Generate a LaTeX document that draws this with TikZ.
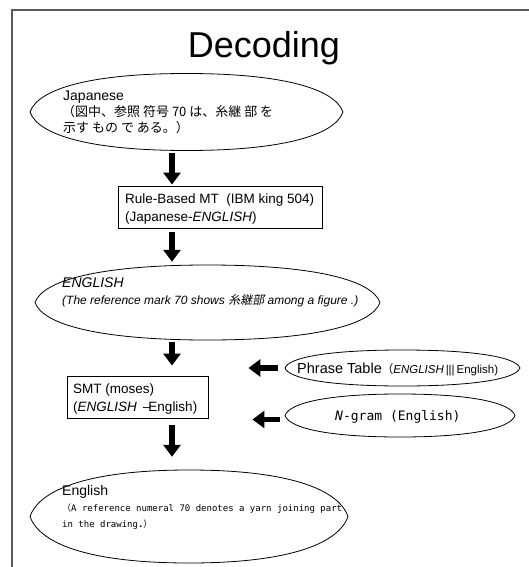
\documentclass[tikz,border=0pt]{standalone}
\usepackage{fontspec}
\setmainfont{Liberation Sans}
\newfontfamily\jp{Noto Sans CJK JP}
\newfontfamily\jpit[FakeSlant=0.2]{Noto Sans CJK JP}
\newfontfamily\mono{DejaVu Sans Mono}
\usetikzlibrary{shapes.geometric,arrows.meta}

\tikzset{
  frame/.style={draw=black!65, line width=1.3pt},
  outline/.style={draw, line width=0.8pt},
  stagebox/.style={rectangle, draw, line width=0.9pt, inner sep=0pt},
  bigarrow/.style={line width=5.5pt, -{Triangle[width=17pt,length=12pt]}},
  txt/.style={anchor=base west, inner sep=0pt},
  big/.style={font=\fontsize{13.5}{16}\selectfont},
}

% oval with slightly pointed ends: name, centre x, centre y, half width, half height
\newcommand\ovalstage[5]{%
  \node[ellipse, inner sep=0pt, minimum width=#4*2pt, minimum height=#5*2pt] (#1) at (#2,#3) {};
  \draw[outline] (#2-#4,#3)
    .. controls (#2-#4+0.22*#5,#3-0.62*#5) and (#2-0.6*#4,#3-#5) .. (#2,#3-#5)
    .. controls (#2+0.6*#4,#3-#5) and (#2+#4-0.22*#5,#3-0.62*#5) .. (#2+#4,#3)
    .. controls (#2+#4-0.22*#5,#3+0.62*#5) and (#2+0.6*#4,#3+#5) .. (#2,#3+#5)
    .. controls (#2-0.6*#4,#3+#5) and (#2-#4+0.22*#5,#3+0.62*#5) .. cycle;
}

\begin{document}
\begin{tikzpicture}[x=1pt,y=-1pt]
\useasboundingbox (0,0) rectangle (529,567);

% page frame (top and left edges)
\draw[frame] (12,567) -- (12,10) -- (529,10);

% title
\node[anchor=base, inner sep=0pt, font=\fontsize{36}{42}\selectfont] (title) at (264,58) {Decoding};

% stages
\ovalstage{j}{186.5}{112}{156.5}{38.5}
\node[stagebox, minimum width=204pt, minimum height=42pt] (rb) at (220,207) {};
\ovalstage{e2}{207.5}{302.5}{172.5}{37.5}
\node[stagebox, minimum width=141pt, minimum height=42pt] (smt) at (137.5,397) {};
\ovalstage{ph}{402.5}{368}{117.5}{18}
\ovalstage{ng}{400}{415.5}{115}{21.5}
\ovalstage{en}{189}{516.5}{159}{46.5}

% labels
\node[txt, font=\fontsize{14}{16}\selectfont] (j1) at (63,101) {Japanese};
\node[txt, font=\fontsize{13}{15}\jp] (j2) at (62,116.5) {（図中、参照 符号 70 は、糸継 部 を};
\node[txt, font=\fontsize{13}{15}\jp] (j3) at (63,132) {示す もの で ある。）};

\node[txt, big] (r1) at (125,203) {Rule-Based MT\ \ (IBM king 504)};
\node[txt, big] (r2) at (125,221) {(Japanese-\textit{ENGLISH})};

\node[txt, font=\fontsize{14}{16}\selectfont] (e1) at (62,287) {\textit{ENGLISH}};
\node[txt, font=\fontsize{12}{14}\selectfont] (e3) at (62,304) {\textit{(The reference mark 70 shows {\jpit 糸継部} among a figure .)}};

\node[txt, big] (s1) at (73,393) {SMT (moses)};
\node[txt, big] (s2) at (73,411) {(\textit{ENGLISH} \,--\kern-2pt English)};

\node[txt, font=\fontsize{14.5}{16}\selectfont] (p1) at (297,373) {Phrase Table{\fontsize{11.5}{13}\selectfont{\jp （}\textit{ENGLISH}\,|||\,English)}};

\node[txt, font=\fontsize{13}{15}\mono] (n1) at (335,420) {\textit{N}-gram (English)};

\node[txt, font=\fontsize{14}{16}\selectfont] (f1) at (62,495) {English};
\node[txt, font=\fontsize{9}{11}\mono] (f2) at (62,511) {{\jp （}A reference numeral 70 denotes a yarn joining part};
\node[txt, font=\fontsize{9}{11}\mono] (f3) at (62,527) { in the drawing{\bfseries .}{\jp ）}};

% flow arrows
\coordinate (ax) at (172,0);
\draw[bigarrow, shorten <=2pt, shorten >=1pt] (j.south -| ax) -- (rb.north -| ax);
\draw[bigarrow, shorten <=4pt, shorten >=3pt] (rb.south -| ax) -- (e2.north -| ax);
\draw[bigarrow, shorten <=2pt, shorten >=10pt] (e2.south -| ax) -- (smt.north -| ax);
\draw[bigarrow, shorten <=7pt, shorten >=13pt] (smt.south -| ax) -- (en.north -| ax);
\draw[bigarrow, shorten <=7pt, shorten >=40pt] (ph.west) -- (ph.west -| smt.east);
\draw[bigarrow, shorten <=5pt, shorten >=44pt] ([yshift=-4pt]ng.west) -- ([yshift=-4pt]ng.west -| smt.east);
\end{tikzpicture}
\end{document}
